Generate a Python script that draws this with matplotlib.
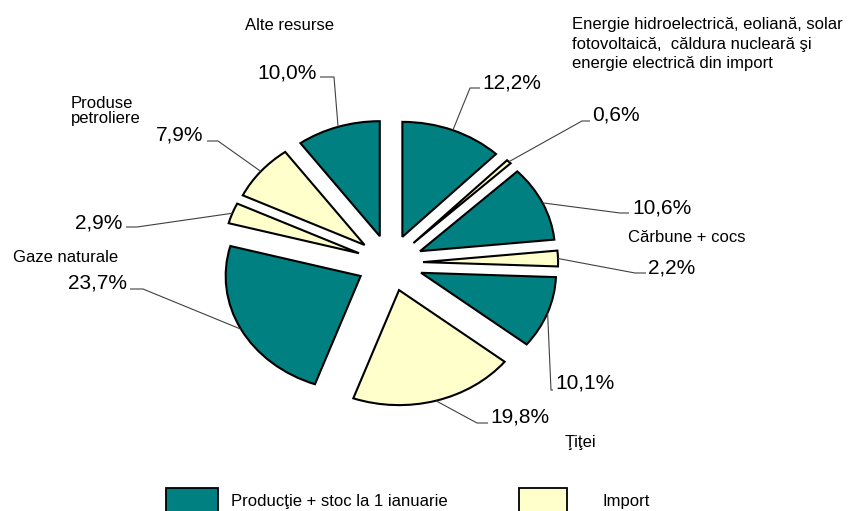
import matplotlib
matplotlib.use("Agg")
import matplotlib.pyplot as plt
from matplotlib.patches import Rectangle
import numpy as np

# ---------------- data ----------------
values = [12.2, 0.6, 10.6, 2.2, 10.1, 19.8, 23.7, 2.9, 7.9, 10.0]
sources = ["prod", "imp", "prod", "imp", "prod", "imp", "prod", "imp", "imp", "prod"]
pct_labels = [f"{v:.1f}%".replace(".", ",") for v in values]

category_texts = [
    "Energie hidroelectrică, eoliană, solar\nfotovoltaică,  căldura nucleară şi\nenergie electrică din import",
    "Cărbune + cocs",
    "Ţiţei",
    "Gaze naturale",
    "Produse\npetroliere",
    "Alte resurse",
]
legend_labels = {"prod": "Producţie + stoc la 1 ianuarie", "imp": "Import"}
colors = {"prod": "#008080", "imp": "#FFFFCC"}

# ---------------- layout (pixels) ----------------
W, H = 850, 511
CX, CY = 390, 263      # pie centre
SX, SY = 135, 115      # pixel size of unit radius (chart is stretched horizontally)


def px(x, y):
    return ((x - CX) / SX, (CY - y) / SY)


# per-slice: text anchor, alignment, elbow points (from arc towards the text)
label_layout = [
    ((482, 83), "left", [(470, 88), (480, 88)]),
    ((592, 115), "left", [(582, 121), (590, 121)]),
    ((632, 208), "left", [(620, 213), (629, 213)]),
    ((648, 268), "left", [(635, 273), (646, 273)]),
    ((555, 383), "left", [(551, 390), (553, 390)]),
    ((490, 417), "left", [(477, 423), (488, 423)]),
    ((127, 283), "right", [(143, 289), (130, 289)]),
    ((122, 223), "right", [(137, 227), (126, 227)]),
    ((203, 135), "right", [(218, 141), (207, 141)]),
    ((317, 73), "right", [(334, 77), (320, 77)]),
]
category_layout = [
    ((572, 44), "left", 1.4),
    ((628, 237), "left", 1.2),
    ((565, 442), "left", 1.2),
    ((13, 257), "left", 1.2),
    ((71, 111), "left", 1.05),
    ((245, 25), "left", 1.2),
]

FONT = ["Liberation Sans", "DejaVu Sans"]
plt.rcParams["font.family"] = FONT

fig = plt.figure(figsize=(W / 100, H / 100), dpi=100)
fig.patch.set_facecolor("white")
ax = fig.add_axes([0, 0, 1, 1])
ax.axis("off")

wedges, _ = ax.pie(
    values,
    colors=[colors[s] for s in sources],
    startangle=90,
    counterclock=False,
    explode=[0.245] * len(values),
    radius=1.0,
    wedgeprops=dict(edgecolor="black", linewidth=1.5),
)
ax.set_aspect("auto")
ax.set_xlim(-CX / SX, (W - CX) / SX)
ax.set_ylim(-(H - CY) / SY, CY / SY)

# percent labels with leader lines
for w, lab, (txy, ha, elbows) in zip(wedges, pct_labels, label_layout):
    mid = np.deg2rad((w.theta1 + w.theta2) / 2)
    cx, cy = w.center
    ax0 = cx + w.r * np.cos(mid)
    ay0 = cy + w.r * np.sin(mid)
    pts = [(ax0, ay0)] + [px(*e) for e in elbows]
    xs, ys = zip(*pts)
    ax.plot(xs, ys, color="#404040", lw=0.8, solid_capstyle="butt", zorder=1)
    tx, ty = px(*txy)
    ax.text(tx, ty, lab, ha=ha, va="center", fontsize=15, color="black")

# category labels
for txt, ((x, y), ha, ls) in zip(category_texts, category_layout):
    tx, ty = px(x, y)
    ax.text(tx, ty, txt, ha=ha, va="center", fontsize=12, color="black",
            linespacing=ls)

# legend
legend_boxes = [("prod", 166, 218, 231), ("imp", 519, 567, 602)]
for key, x0, x1, tx in legend_boxes:
    fig.patches.append(Rectangle((x0 / W, 1 - 525 / H), (x1 - x0) / W, (525 - 488) / H,
                                 transform=fig.transFigure, facecolor=colors[key],
                                 edgecolor="black", linewidth=1.3))
    fig.text(tx / W, 1 - 501 / H, legend_labels[key], ha="left", va="center",
             fontsize=12, color="black")

fig.savefig("out.png", dpi=100, facecolor="white")
